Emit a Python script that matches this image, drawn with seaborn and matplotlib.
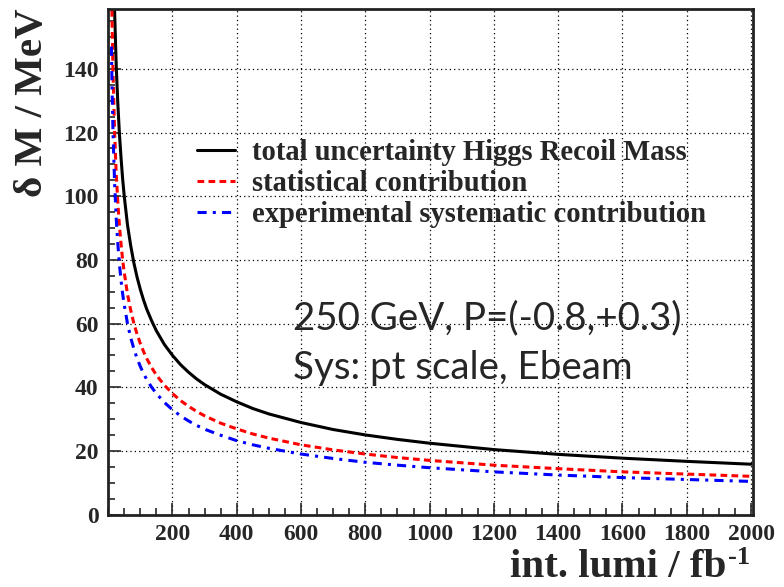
import numpy as np
import pandas as pd
import seaborn as sns
import matplotlib.pyplot as plt
from matplotlib.ticker import MultipleLocator

# integrated luminosity (fb^-1) and uncertainties (MeV)
lumi = [10, 12, 15, 20, 25, 30, 35, 40, 45, 50, 60, 70, 80, 90, 100, 110, 120, 135, 150,
        175, 200, 225, 250, 275, 300, 350, 400, 450, 500, 600, 700, 800, 900, 1000,
        1200, 1400, 1600, 1800, 2000]
total = [224, 204, 183, 158, 141, 129, 119.5, 112, 105.4, 100, 91, 84.5, 79, 74.5, 70.7,
         67.4, 64.5, 60.9, 57.7, 53.4, 50, 47.1, 44.7, 42.6, 40.8, 37.8, 35.4, 33.3,
         31.6, 28.9, 26.7, 25, 23.6, 22.4, 20.4, 18.9, 17.7, 16.7, 15.8]
stat = [170, 155, 139, 120, 107, 98, 90.8, 85, 80, 76, 69.3, 64.2, 60, 56.6, 53.7,
        51.2, 49, 46.2, 43.8, 40.6, 38, 35.8, 34, 32.4, 31, 28.7, 26.9, 25.3,
        24, 21.9, 20.3, 19, 17.9, 17, 15.5, 14.4, 13.4, 12.7, 12.0]
syst = [147, 134, 120, 104, 93, 85, 78.6, 73.5, 69.3, 65.8, 60, 55.6, 52, 49, 46.5,
        44.3, 42.4, 40, 38, 35.2, 32.9, 31, 29.4, 28, 26.8, 24.9, 23.2, 21.9,
        20.8, 19, 17.6, 16.4, 15.5, 14.7, 13.4, 12.4, 11.6, 11, 10.4]

df = pd.DataFrame({"lumi": lumi, "total": total, "stat": stat, "syst": syst})

sns.set_style("ticks")
plt.rcParams["font.family"] = ["Liberation Serif", "DejaVu Serif"]

fig = plt.figure(figsize=(7.84, 5.87), dpi=100)
ax = fig.add_axes([0.138, 0.1235, 0.822, 0.861])

sns.lineplot(data=df, x="lumi", y="total", ax=ax, color="black", lw=2.2,
             label="total uncertainty Higgs Recoil Mass")
sns.lineplot(data=df, x="lumi", y="stat", ax=ax, color="red", lw=2.2,
             label="statistical contribution")
ax.lines[-1].set_linestyle((0, (2.2, 1.4)))
sns.lineplot(data=df, x="lumi", y="syst", ax=ax, color="blue", lw=2.2,
             label="experimental systematic contribution")
ax.lines[-1].set_linestyle((0, (3, 2, 1, 2)))

ax.set_xlim(0, 2005)
ax.set_ylim(0, 158.8)
ax.xaxis.set_minor_locator(MultipleLocator(50))
ax.yaxis.set_minor_locator(MultipleLocator(5))
ax.set_xticks([200, 400, 600, 800, 1000, 1200, 1400, 1600, 1800, 2000])
ax.set_yticks([0, 20, 40, 60, 80, 100, 120, 140])
ax.tick_params(which="major", direction="in", length=9, width=1.2)
ax.tick_params(which="minor", direction="in", length=5, width=1.2)
ax.tick_params(labelsize=17, pad=7)
for t in ax.get_xticklabels() + ax.get_yticklabels():
    t.set_fontweight("bold")
ax.grid(True, which="major", color="black", linestyle=(0, (1, 2.5)), lw=0.9)
for s in ax.spines.values():
    s.set_linewidth(2)
    s.set_color("#222222")

ax.set_xlabel("")
ax.set_ylabel("")
fig.text(0.927, 0.001, "int. lumi / fb", ha="right", va="bottom",
         fontsize=29.5, fontweight="bold")
fig.text(0.928, 0.039, "-1", ha="left", va="baseline",
         fontsize=19, fontweight="bold")
fig.text(0.042, 0.985, "δ M / MeV", rotation=90, ha="center", va="top",
         fontsize=29.5, fontweight="bold")

leg = ax.legend(loc="upper left", bbox_to_anchor=(0.12, 0.765), frameon=False,
                prop={"family": ["Liberation Serif"], "weight": "bold", "size": 20.6},
                handlelength=1.33, handletextpad=0.6, labelspacing=0.135, borderaxespad=0)

fig.text(0.374, 0.4395, "250 GeV, P=(-0.8,+0.3)", ha="left", va="baseline",
         fontsize=27.7, family=["Lato", "DejaVu Sans"])
fig.text(0.374, 0.3543, "Sys: pt scale, Ebeam", ha="left", va="baseline",
         fontsize=27.7, family=["Lato", "DejaVu Sans"])

fig.savefig("out.png", dpi=100)
